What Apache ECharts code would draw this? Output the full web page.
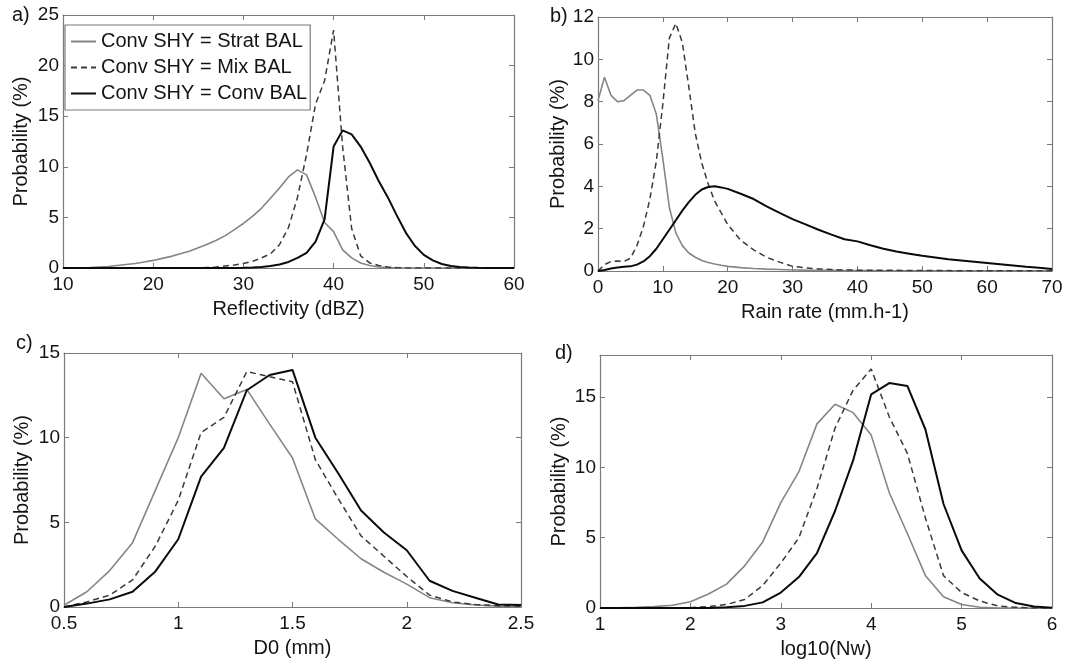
<!DOCTYPE html>
<html>
<head>
<meta charset="utf-8">
<script src="https://cdn.jsdelivr.net/npm/echarts@6/dist/echarts.min.js"></script>
<style>html,body{margin:0;padding:0;background:#fff}#c{width:1066px;height:661px}</style>
</head>
<body>
<div id="c"></div>
<script>
// ---------- data ----------
const seriesNames = ['Conv SHY = Strat BAL', 'Conv SHY = Mix BAL', 'Conv SHY = Conv BAL'];

// a) Reflectivity (dBZ)
const refX = [10,11,12,13,14,15,16,17,18,19,20,21,22,23,24,25,26,27,28,29,30,31,32,33,34,35,36,37,38,39,40,41,42,43,44,45,46,47,48,49,50,51,52,53,54,55,56,57,58,59,60];
const refStrat = [0,0,0.02,0.05,0.1,0.15,0.25,0.35,0.45,0.6,0.75,0.95,1.15,1.4,1.65,2.0,2.35,2.75,3.2,3.8,4.4,5.1,5.9,6.9,7.9,9.0,9.7,9.2,7.0,4.5,3.6,1.8,1.0,0.5,0.25,0.1,0.05,0.02,0,0,0,0,0,0,0,0,0,0,0,0,0];
const refMix = [0,0,0,0,0,0,0,0,0,0,0,0,0,0,0,0,0.05,0.1,0.2,0.3,0.45,0.65,1.0,1.4,2.3,4.0,7.0,11.2,16.2,18.5,23.5,12,3.9,1.2,0.5,0.25,0.1,0.05,0.02,0,0,0,0,0,0,0,0,0,0,0,0];
const refConv = [0,0,0,0,0,0,0,0,0,0,0,0,0,0,0,0,0,0,0,0,0.02,0.05,0.1,0.2,0.35,0.6,1.0,1.5,2.6,4.8,12,13.6,13.2,12.0,10.4,8.6,7.0,5.2,3.5,2.2,1.3,0.75,0.4,0.2,0.1,0.05,0.02,0,0,0,0];

// b) Rain rate (mm.h-1)
const rrX = [0,1,2,3,4,5,6,7,8,9,10,11,12,13,14,15,16,17,18,19,20,22,24,26,28,30,32,34,36,38,40,42,44,46,48,50,52,54,56,58,60,62,64,66,68,70];
const rrStrat = [8.05,9.15,8.3,8.0,8.05,8.3,8.55,8.55,8.3,7.4,5.3,3.0,1.8,1.2,0.85,0.65,0.5,0.4,0.33,0.27,0.22,0.16,0.12,0.09,0.07,0.05,0.04,0.035,0.03,0.025,0.02,0.02,0.015,0.015,0.01,0.01,0.01,0.01,0.01,0.01,0.01,0.01,0.01,0.01,0.01,0.01];
const rrMix = [0,0.3,0.45,0.47,0.45,0.6,1.2,2.1,3.4,5.2,7.9,11.0,11.7,10.8,8.7,6.5,5.1,4.1,3.3,2.75,2.2,1.45,1.0,0.65,0.42,0.22,0.15,0.1,0.07,0.05,0.04,0.04,0.03,0.03,0.02,0.02,0.02,0.02,0.01,0.01,0.01,0.01,0.01,0.01,0.01,0.01];
const rrConv = [0,0.05,0.12,0.17,0.2,0.22,0.3,0.45,0.7,1.05,1.5,1.95,2.4,2.85,3.25,3.6,3.85,3.97,4.0,3.95,3.88,3.65,3.4,3.05,2.75,2.45,2.2,1.95,1.72,1.5,1.4,1.22,1.05,0.92,0.82,0.72,0.64,0.56,0.5,0.44,0.38,0.32,0.26,0.2,0.15,0.1];

// c) D0 (mm)
const d0X = [0.5,0.6,0.7,0.8,0.9,1.0,1.1,1.2,1.3,1.4,1.5,1.6,1.7,1.8,1.9,2.0,2.1,2.2,2.3,2.4,2.5];
const d0Strat = [0.1,0.9,2.15,3.8,6.9,10.0,13.8,12.3,12.85,10.8,8.8,5.2,4.0,2.85,2.05,1.35,0.55,0.25,0.12,0.05,0.03];
const d0Mix = [0.0,0.3,0.7,1.6,3.6,6.3,10.3,11.2,13.9,13.6,13.3,8.7,6.4,4.2,3.0,1.8,0.7,0.3,0.15,0.08,0.05];
const d0Conv = [0.0,0.2,0.45,0.9,2.1,4.0,7.7,9.4,12.8,13.7,14.0,10.0,7.9,5.7,4.4,3.35,1.55,0.95,0.55,0.15,0.12];

// d) log10(Nw)
const nwX = [1.0,1.2,1.4,1.6,1.8,2.0,2.2,2.4,2.6,2.8,3.0,3.2,3.4,3.6,3.8,4.0,4.2,4.4,4.6,4.8,5.0,5.2,5.4,5.6,5.8,6.0];
const nwStrat = [0,0.02,0.05,0.1,0.2,0.45,1.0,1.7,3.0,4.7,7.5,9.7,13.1,14.5,13.9,12.3,8.2,5.3,2.3,0.8,0.25,0.05,0,0,0,0];
const nwMix = [0,0,0,0,0,0.02,0.1,0.25,0.6,1.6,3.2,5.0,8.5,12.8,15.5,17.0,13.6,11.0,6.4,2.3,1.1,0.5,0.15,0.05,0,0];
const nwConv = [0,0,0,0,0,0,0,0.05,0.15,0.4,1.1,2.2,3.9,6.9,10.5,15.2,16.0,15.8,12.7,7.4,4.1,2.1,0.95,0.35,0.1,0.02];

// ---------- chart ----------
const FONT = 'Liberation Sans, Arial, Helvetica, sans-serif';
const TXT = '#141414';
const BOX = '#7a7a7a';

const panels = [
  {grid:{left:63, top:15, width:451, height:253}, x:[10,60,10], y:[0,25,5], xName:'Reflectivity (dBZ)', yGap:32, xs:refX, ys:[refStrat,refMix,refConv]},
  {grid:{left:598, top:17, width:454, height:254}, x:[0,70,10], y:[0,12,2], xName:'Rain rate (mm.h-1)', yGap:26, xs:rrX, ys:[rrStrat,rrMix,rrConv]},
  {grid:{left:64, top:353, width:457, height:254}, x:[0.5,2.5,0.5], y:[0,15,5], xName:'D0 (mm)', yGap:32, xs:d0X, ys:[d0Strat,d0Mix,d0Conv]},
  {grid:{left:600, top:355, width:452, height:253}, x:[1,6,1], y:[0,18,5], xName:'log10(Nw)', yGap:31, xs:nwX, ys:[nwStrat,nwMix,nwConv]}
];

const lineStyles = [
  {color:'#858585', width:1.6, type:'solid'},
  {color:'#3a3a3a', width:1.5, type:[6,4]},
  {color:'#0a0a0a', width:2, type:'solid'}
];

const grids = [], xAxes = [], yAxes = [], series = [];
panels.forEach((p, i) => {
  grids.push(p.grid);
  const tick = {show:true, inside:true, length:5, lineStyle:{color:BOX, width:1}};
  const line = {show:true, onZero:false, lineStyle:{color:BOX, width:1.2}};
  const lbl = {color:TXT, fontSize:19, fontFamily:FONT};
  // bottom x
  xAxes.push({type:'value', gridIndex:i, position:'bottom', min:p.x[0], max:p.x[1], interval:p.x[2],
    axisLine:line, axisTick:tick, splitLine:{show:false},
    axisLabel:Object.assign({margin:7, showMinLabel:true, showMaxLabel:true}, lbl),
    name:p.xName, nameLocation:'middle', nameGap:31, nameTextStyle:{color:TXT, fontSize:20, fontFamily:FONT}});
  // top x (box)
  xAxes.push({type:'value', gridIndex:i, position:'top', min:p.x[0], max:p.x[1], interval:p.x[2],
    axisLine:line, axisTick:tick, splitLine:{show:false}, axisLabel:{show:false}});
  // left y
  yAxes.push({type:'value', gridIndex:i, position:'left', min:p.y[0], max:p.y[1], interval:p.y[2],
    axisLine:line, axisTick:tick, splitLine:{show:false},
    axisLabel:Object.assign({margin:4, showMaxLabel: p.y[1] % p.y[2] === 0}, lbl),
    name:'Probability (%)', nameLocation:'middle', nameGap:p.yGap, nameRotate:90,
    nameTextStyle:{color:TXT, fontSize:20, fontFamily:FONT}});
  // right y (box)
  yAxes.push({type:'value', gridIndex:i, position:'right', min:p.y[0], max:p.y[1], interval:p.y[2],
    axisLine:line, axisTick:tick, splitLine:{show:false}, axisLabel:{show:false}});
  p.ys.forEach((ys, k) => {
    series.push({
      type:'line', name:seriesNames[k], xAxisIndex:i*2, yAxisIndex:i*2,
      data:p.xs.map((x, j) => [x, ys[j]]),
      symbol:'none', smooth:false, animation:false,
      lineStyle:lineStyles[k], itemStyle:{color:lineStyles[k].color},
      z: 2 + k
    });
  });
});

const chart = echarts.init(document.getElementById('c'), null, {renderer:'canvas'});
chart.setOption({
  backgroundColor:'#ffffff',
  animation:false,
  grid:grids,
  xAxis:xAxes,
  yAxis:yAxes,
  series:series,
  legend:{
    data:seriesNames, orient:'vertical', left:65, top:25,
    padding:[6,3,6,5], itemGap:5, itemWidth:25, itemHeight:14,
    itemStyle:{opacity:0},
    backgroundColor:'#ffffff', borderColor:'#7a7a7a', borderWidth:1.2,
    textStyle:{color:TXT, fontSize:20, fontFamily:FONT, lineHeight:21},
    selectedMode:false
  },
  graphic:[
    {type:'text', left:12, top:5, style:{text:'a)', font:'20px ' + FONT, fill:TXT}},
    {type:'text', left:550, top:6, style:{text:'b)', font:'20px ' + FONT, fill:TXT}},
    {type:'text', left:16, top:333, style:{text:'c)', font:'20px ' + FONT, fill:TXT}},
    {type:'text', left:555, top:343, style:{text:'d)', font:'20px ' + FONT, fill:TXT}}
  ]
});
</script>
</body>
</html>
